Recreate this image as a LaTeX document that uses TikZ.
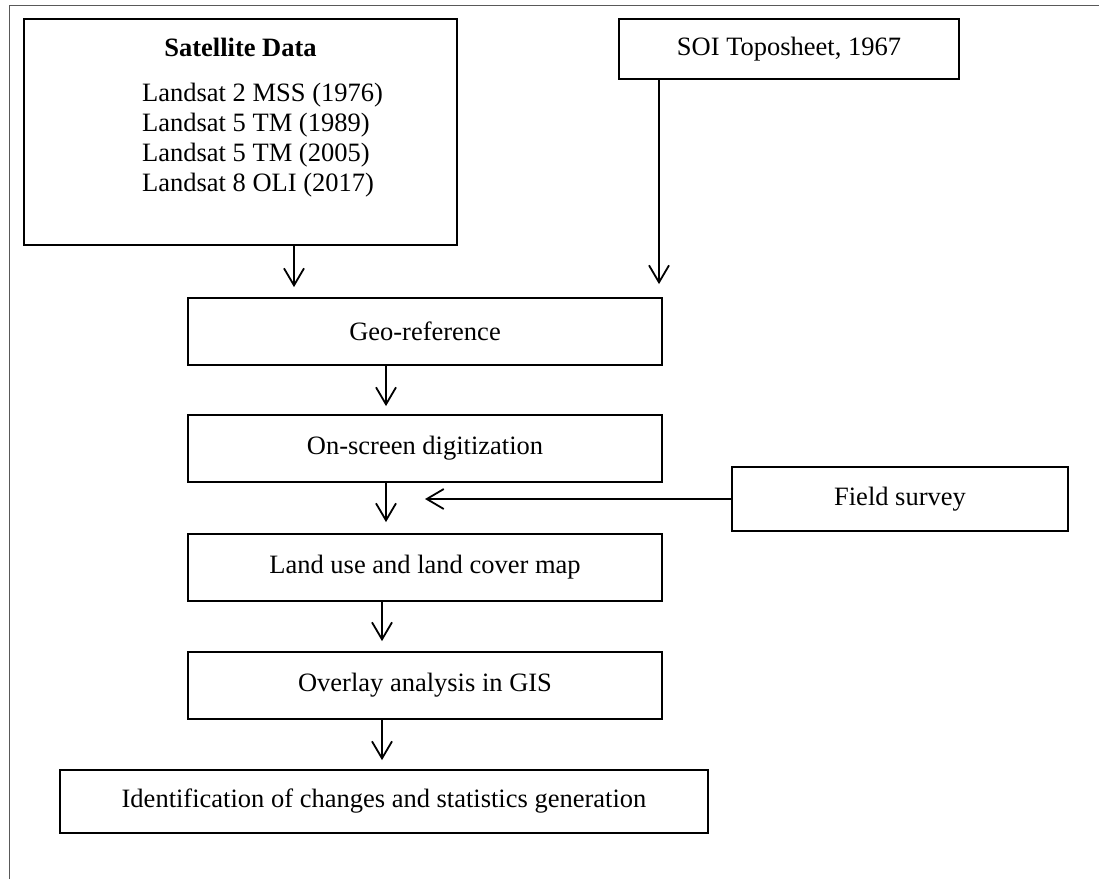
\documentclass[tikz,border=0pt]{standalone}
\usepackage{fontspec}
\setmainfont{Liberation Serif}
\usetikzlibrary{arrows.meta}

\begin{document}
\begin{tikzpicture}[x=1pt,y=-1pt,line join=miter,
	font=\fontsize{26.5}{25}\selectfont,
	box/.style={draw,line width=1.8pt,inner sep=0pt},
	arr/.style={-{Straight Barb[length=17pt,width=20pt]},line width=1.8pt}]
	\useasboundingbox (0,0) rectangle (1099,879);
	% frame
	\draw[line width=1pt,black!65] (9,879) -- (9,5) -- (1099,5);
	% inputs
	\node[box,minimum width=433,minimum height=226] (sat) at (240.5,132) {};
	\node[font=\fontsize{26.5}{25}\selectfont\bfseries] (title) at (240.5,47) {Satellite Data};
	\node[anchor=west,align=left,inner sep=0pt,font=\fontsize{26.5}{30}\selectfont] (list) at (142,140) {Landsat 2 MSS (1976)\\Landsat 5 TM (1989)\\Landsat 5 TM (2005)\\Landsat 8 OLI (2017)};
	\node[box,minimum width=340,minimum height=60] (soi) at (789,49) {SOI Toposheet, 1967};
	\node[box,minimum width=336,minimum height=64] (field) at (900,499) {Field survey};
	% steps
	\node[box,minimum width=474,minimum height=67] (geo) at (425,331.5) {Geo-reference};
	\node[box,minimum width=474,minimum height=67] (onscreen) at (425,448.5) {On-screen digitization};
	\node[box,minimum width=474,minimum height=67] (landuse) at (425,567.5) {Land use and land cover map};
	\node[box,minimum width=474,minimum height=67] (overlay) at (425,685.5) {Overlay analysis in GIS};
	\node[box,minimum width=648,minimum height=63] (ident) at (384,801.5) {Identification of changes and statistics generation};
	% arrows
	\draw[arr,shorten >=10pt] ([xshift=53.5pt]sat.south) -- ([xshift=53.5pt]sat.south |- geo.north);
	\draw[arr,shorten >=13pt] ([xshift=-130pt]soi.south) -- ([xshift=-130pt]soi.south |- geo.north);
	\draw[arr,shorten >=8pt] ([xshift=-39pt]geo.south) -- ([xshift=-39pt]geo.south |- onscreen.north);
	\draw[arr,shorten >=11pt] ([xshift=-39pt]onscreen.south) -- ([xshift=-39pt]onscreen.south |- landuse.north);
	\draw[arr] (field.west) -- (field.west -| onscreen.south);
	\draw[arr,shorten >=10pt] ([xshift=-43pt]landuse.south) -- ([xshift=-43pt]landuse.south |- overlay.north);
	\draw[arr,shorten >=9pt] ([xshift=-43pt]overlay.south) -- ([xshift=-43pt]overlay.south |- ident.north);
\end{tikzpicture}
\end{document}
